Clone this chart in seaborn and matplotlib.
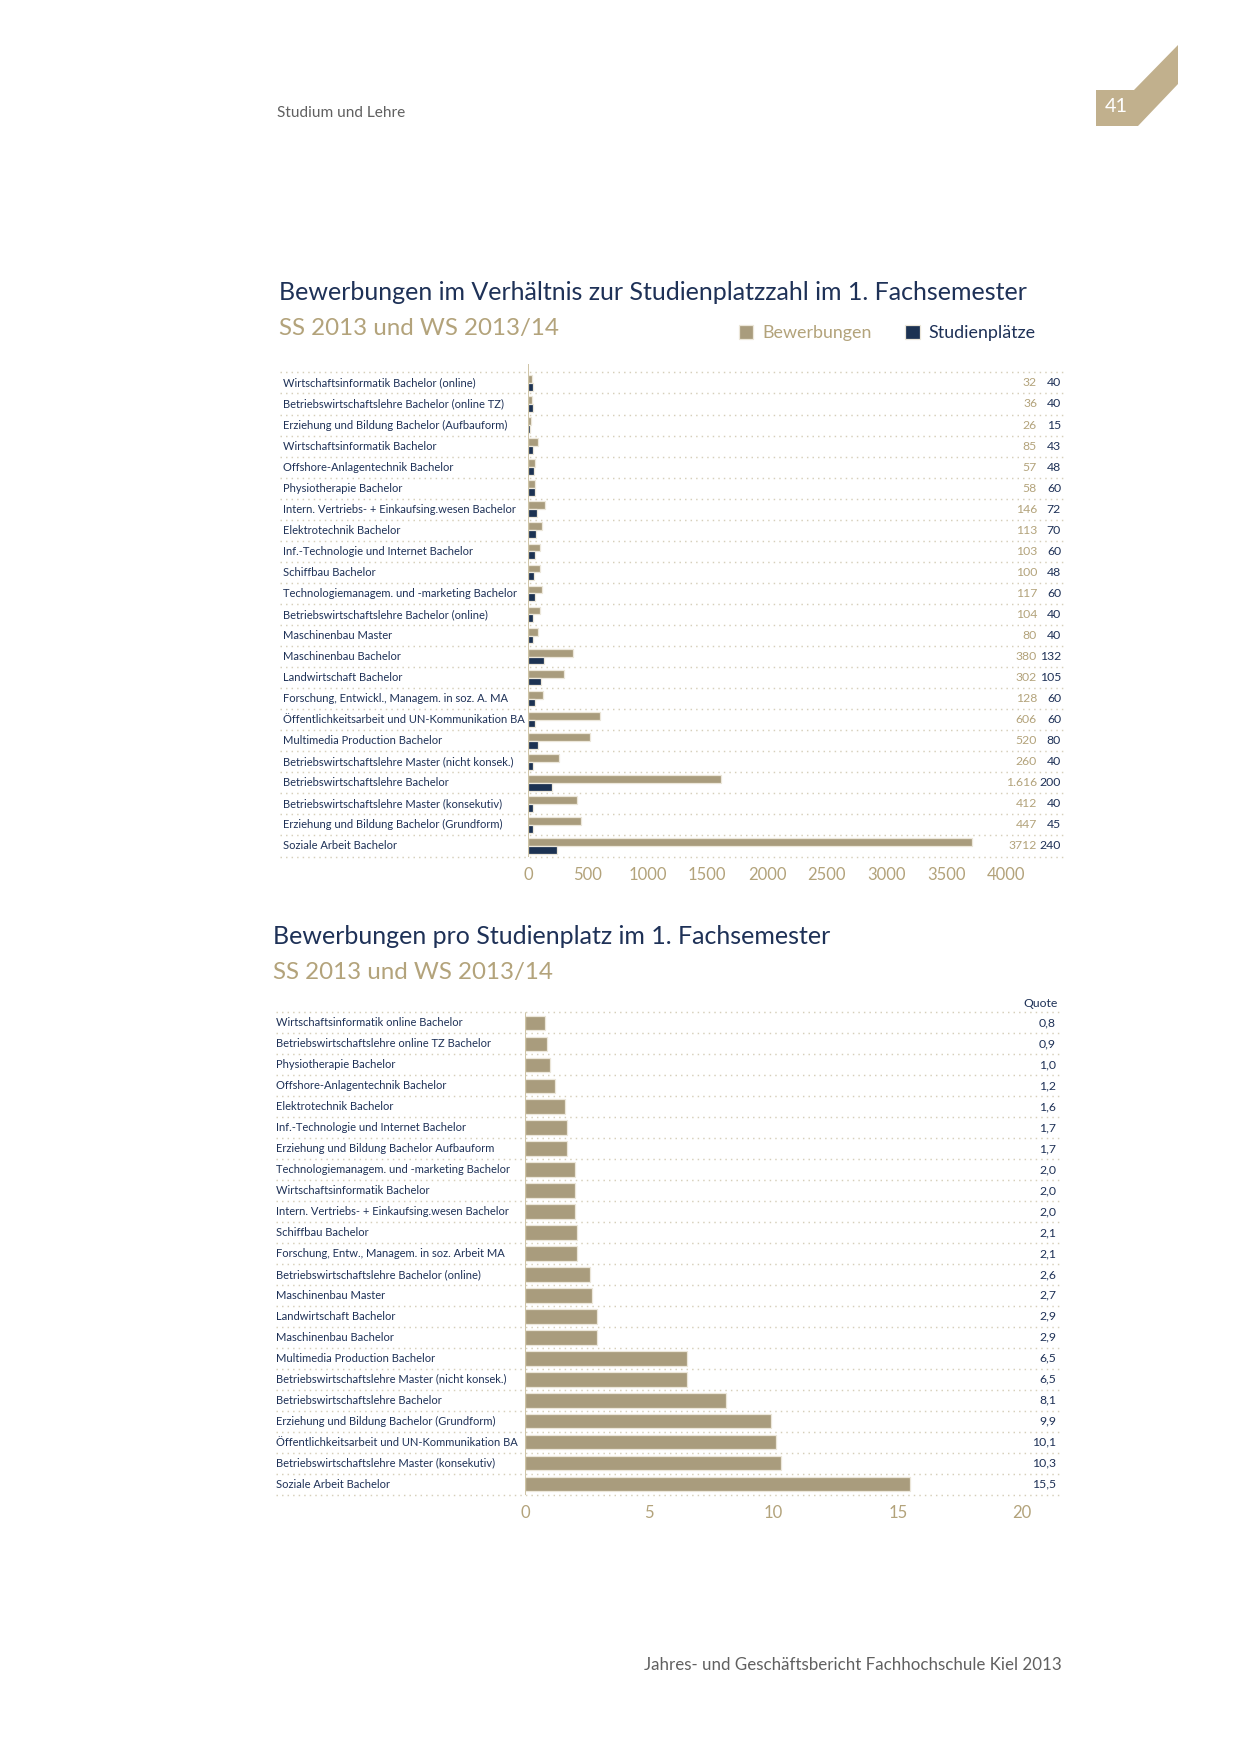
import numpy as np
import pandas as pd
import seaborn as sns
from matplotlib import pyplot as plt
from matplotlib.patches import Polygon
from matplotlib.transforms import blended_transform_factory

# chart 1: applications vs. study places (top to bottom)
programs1 = [
    "Wirtschaftsinformatik Bachelor (online)",
    "Betriebswirtschaftslehre Bachelor (online TZ)",
    "Erziehung und Bildung Bachelor (Aufbauform)",
    "Wirtschaftsinformatik Bachelor",
    "Offshore-Anlagentechnik Bachelor",
    "Physiotherapie Bachelor",
    "Intern. Vertriebs- + Einkaufsing.wesen Bachelor",
    "Elektrotechnik Bachelor",
    "Inf.-Technologie und Internet Bachelor",
    "Schiffbau Bachelor",
    "Technologiemanagem. und -marketing Bachelor",
    "Betriebswirtschaftslehre Bachelor (online)",
    "Maschinenbau Master",
    "Maschinenbau Bachelor",
    "Landwirtschaft Bachelor",
    "Forschung, Entwickl., Managem. in soz. A. MA",
    "Öffentlichkeitsarbeit und UN-Kommunikation BA",
    "Multimedia Production Bachelor",
    "Betriebswirtschaftslehre Master (nicht konsek.)",
    "Betriebswirtschaftslehre Bachelor",
    "Betriebswirtschaftslehre Master (konsekutiv)",
    "Erziehung und Bildung Bachelor (Grundform)",
    "Soziale Arbeit Bachelor",
]
bewerbungen = [32, 36, 26, 85, 57, 58, 146, 113, 103, 100, 117, 104, 80,
               380, 302, 128, 606, 520, 260, 1616, 412, 447, 3712]
bewerbungen_text = ["32", "36", "26", "85", "57", "58", "146", "113", "103", "100",
                    "117", "104", "80", "380", "302", "128", "606", "520", "260",
                    "1.616", "412", "447", "3712"]
studienplaetze = [40, 40, 15, 43, 48, 60, 72, 70, 60, 48, 60, 40, 40,
                  132, 105, 60, 60, 80, 40, 200, 40, 45, 240]
ticks1 = [0, 500, 1000, 1500, 2000, 2500, 3000, 3500, 4000]

# chart 2: applications per study place
programs2 = [
    "Wirtschaftsinformatik online Bachelor",
    "Betriebswirtschaftslehre online TZ Bachelor",
    "Physiotherapie Bachelor",
    "Offshore-Anlagentechnik Bachelor",
    "Elektrotechnik Bachelor",
    "Inf.-Technologie und Internet Bachelor",
    "Erziehung und Bildung Bachelor Aufbauform",
    "Technologiemanagem. und -marketing Bachelor",
    "Wirtschaftsinformatik Bachelor",
    "Intern. Vertriebs- + Einkaufsing.wesen Bachelor",
    "Schiffbau Bachelor",
    "Forschung, Entw., Managem. in soz. Arbeit MA",
    "Betriebswirtschaftslehre Bachelor (online)",
    "Maschinenbau Master",
    "Landwirtschaft Bachelor",
    "Maschinenbau Bachelor",
    "Multimedia Production Bachelor",
    "Betriebswirtschaftslehre Master (nicht konsek.)",
    "Betriebswirtschaftslehre Bachelor",
    "Erziehung und Bildung Bachelor (Grundform)",
    "Öffentlichkeitsarbeit und UN-Kommunikation BA",
    "Betriebswirtschaftslehre Master (konsekutiv)",
    "Soziale Arbeit Bachelor",
]
quoten = [0.8, 0.9, 1.0, 1.2, 1.6, 1.7, 1.7, 2.0, 2.0, 2.0, 2.1, 2.1,
          2.6, 2.7, 2.9, 2.9, 6.5, 6.5, 8.1, 9.9, 10.1, 10.3, 15.5]
ticks2 = [0, 5, 10, 15, 20]

GOLD = "#b09f76"
GOLD_TXT = "#b3a37b"
NAVY = "#13305b"
NAVY_TXT = "#1e3157"
DOT = "#d6cfba"
AXIS = "#cdc2a3"
GRAY = "#606060"
EDGE = "#ece7da"

W, H, DPI = 1241, 1754, 150
LABEL_FS = 5.35
VALUE_FS = 5.9


def fx(px):
    return px / W


def fy(py):
    return 1 - py / H


sns.set_style("white")
plt.rcParams["font.family"] = ["Lato", "DejaVu Sans"]

fig = plt.figure(figsize=(W / DPI, H / DPI), dpi=DPI)

# page header / footer
fig.text(fx(277), fy(113), "Studium und Lehre", ha="left", va="center", fontsize=7.4, color=GRAY)
pts = [(1096, 90), (1134, 90), (1178, 45), (1178, 84), (1138, 126), (1096, 126)]
fig.patches.append(Polygon([(fx(x), fy(y)) for x, y in pts], closed=True,
                           transform=fig.transFigure, facecolor="#c1b08d", edgecolor="none"))
fig.text(fx(1116), fy(107), "41", ha="center", va="center", fontsize=9.5, color="white")
fig.text(fx(1062), fy(1665), "Jahres- und Geschäftsbericht Fachhochschule Kiel 2013",
         ha="right", va="center", fontsize=8.1, color=GRAY)


def style_axis(ax, n, label_x, right_x, ticks):
    for b in np.arange(-0.5, n):
        ax.axhline(b, xmin=label_x, xmax=right_x, clip_on=False, color=DOT, lw=0.7, ls=(0, (1, 2.8)))
    ax.axvline(0, color=AXIS, lw=0.9)
    sns.despine(ax=ax, left=True, bottom=True)
    ax.set_xlabel("")
    ax.set_ylabel("")
    ax.tick_params(axis="y", left=False, labelleft=False)
    ax.set_xticks(ticks)
    ax.tick_params(axis="x", length=0, pad=5, labelsize=8, labelcolor=GOLD_TXT)


# ---------- chart 1 ----------
fig.text(fx(279), fy(293), "Bewerbungen im Verhältnis zur Studienplatzzahl im 1. Fachsemester",
         ha="left", va="center", fontsize=12.0, color=NAVY_TXT)
fig.text(fx(279), fy(329), "SS 2013 und WS 2013/14", ha="left", va="center", fontsize=11.6, color=GOLD_TXT)

n1 = len(programs1)
df1 = pd.DataFrame({
    "Studiengang": programs1 * 2,
    "Anzahl": bewerbungen + studienplaetze,
    "Reihe": ["Bewerbungen"] * n1 + ["Studienplätze"] * n1,
})
ax1 = fig.add_axes([fx(528), fy(856.5), fx(1063) - fx(528), (856.5 - 364) / H])
sns.barplot(data=df1, x="Anzahl", y="Studiengang", hue="Reihe", order=programs1,
            hue_order=["Bewerbungen", "Studienplätze"], palette=[GOLD, NAVY], orient="h",
            width=0.74, errorbar=None, edgecolor=EDGE, linewidth=0.6, ax=ax1)
ax1.set_xlim(0, 4477)
ax1.set_ylim(n1 - 0.5, -0.9)
style_axis(ax1, n1, (280 - 528) / (1063 - 528), 1.0, ticks1)
sns.move_legend(ax1, "center right", bbox_to_anchor=(fx(1052), fy(333)), bbox_transform=fig.transFigure,
                ncol=2, frameon=False, title=None, fontsize=8.6, handlelength=0.8, handleheight=0.8,
                handletextpad=0.5, columnspacing=1.9, labelcolor=[GOLD_TXT, NAVY_TXT])

tr1 = blended_transform_factory(ax1.transAxes, ax1.transData)
for i, name in enumerate(programs1):
    ax1.text((283 - 528) / (1063 - 528), i, name, transform=tr1, ha="left", va="center",
             fontsize=LABEL_FS, color=NAVY_TXT)
    ax1.text((1037 - 528) / (1063 - 528), i, bewerbungen_text[i], transform=tr1, ha="right",
             va="center", fontsize=VALUE_FS, color=GOLD_TXT)
    ax1.text((1061 - 528) / (1063 - 528), i, str(studienplaetze[i]), transform=tr1, ha="right",
             va="center", fontsize=VALUE_FS, color=NAVY_TXT)

# ---------- chart 2 ----------
fig.text(fx(273), fy(937), "Bewerbungen pro Studienplatz im 1. Fachsemester",
         ha="left", va="center", fontsize=12.0, color=NAVY_TXT)
fig.text(fx(273), fy(973), "SS 2013 und WS 2013/14", ha="left", va="center", fontsize=11.6, color=GOLD_TXT)

n2 = len(programs2)
df2 = pd.DataFrame({"Studiengang": programs2, "Quote": quoten})
ax2 = fig.add_axes([fx(525), fy(1494.5), fx(1060) - fx(525), (1494.5 - 1012.5) / H])
sns.barplot(data=df2, x="Quote", y="Studiengang", order=programs2, color=GOLD, orient="h",
            width=0.7, errorbar=None, edgecolor=EDGE, linewidth=0.6, ax=ax2)
ax2.set_xlim(0, 21.53)
ax2.set_ylim(n2 - 0.5, -0.5)
style_axis(ax2, n2, (276 - 525) / (1060 - 525), 1.0, ticks2)

tr2 = blended_transform_factory(ax2.transAxes, ax2.transData)
qx = (1056 - 525) / (1060 - 525)
ax2.text((1058 - 525) / (1060 - 525), -0.95, "Quote", transform=tr2, ha="right", va="center",
         fontsize=VALUE_FS, color=NAVY_TXT)
for i, name in enumerate(programs2):
    ax2.text((276 - 525) / (1060 - 525), i, name, transform=tr2, ha="left", va="center",
             fontsize=LABEL_FS, color=NAVY_TXT)
    ax2.text(qx, i, f"{quoten[i]:.1f}".replace(".", ","), transform=tr2, ha="right",
             va="center", fontsize=VALUE_FS, color=NAVY_TXT)

fig.savefig("out.png", dpi=DPI)
